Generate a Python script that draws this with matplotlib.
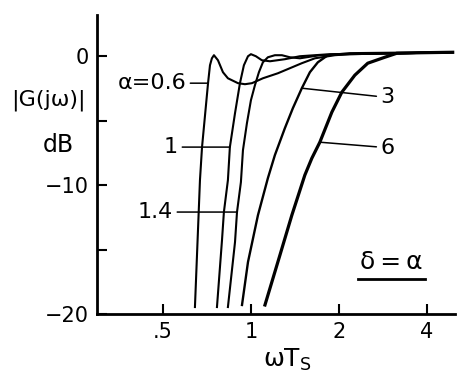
import numpy as np
import matplotlib
matplotlib.use("Agg")
import matplotlib.pyplot as plt

plt.rcParams['font.family'] = ['DejaVu Sans']
plt.rcParams['mathtext.default'] = 'regular'

# |G(jw)| in dB vs w*Ts (delta = alpha)
w_06 = [0.643, 0.669, 0.680, 0.713, 0.724, 0.735, 0.747, 0.771, 0.802,
        0.834, 0.903, 0.954, 1.008, 1.099, 1.237, 1.494, 1.656, 1.939, 2.181,
        3.23, 4.91]
g_06 = [-19.46, -9.61, -7.05, -2.09, -0.70, -0.16, 0.08, -0.31, -1.24,
        -1.71, -2.09, -2.17, -2.09, -1.71, -1.32, -0.54, -0.16, 0.08, 0.16,
        0.23, 0.31]

w_1 = [0.765, 0.796, 0.808, 0.834, 0.847, 0.882, 0.917, 0.946, 0.977, 1.0,
       1.040, 1.090, 1.162, 1.307, 1.471, 1.864, 3.23, 4.91]
g_1 = [-19.46, -14.26, -12.09, -9.61, -7.05, -4.42, -2.09, -0.70, 0.0, 0.16,
       0.0, -0.31, -0.39, -0.23, 0.0, 0.16, 0.23, 0.31]

w_14 = [0.834, 0.882, 0.896, 0.924, 0.939, 0.969, 1.0, 1.032, 1.065, 1.099,
        1.143, 1.208, 1.277, 1.360, 1.471, 1.722, 2.181, 3.23, 4.91]
g_14 = [-19.46, -14.42, -12.09, -9.77, -7.29, -5.19, -3.41, -2.25, -1.24, -0.47,
        -0.08, 0.08, 0.08, -0.08, -0.16, 0.08, 0.16, 0.23, 0.31]

w_3 = [0.932, 0.977, 1.057, 1.143, 1.208, 1.307, 1.392, 1.494, 1.592, 1.695,
       1.834, 2.181, 3.23, 4.91]
g_3 = [-19.30, -15.97, -12.33, -9.46, -7.67, -5.58, -4.03, -2.48, -1.24, -0.47,
       0.08, 0.23, 0.27, 0.31]

w_6 = [1.117, 1.257, 1.381, 1.530, 1.617, 1.722, 1.893, 2.048, 2.269, 2.513,
       2.873, 3.158, 3.785, 4.91]
g_6 = [-19.30, -15.43, -12.33, -9.22, -7.91, -6.67, -4.34, -2.79, -1.47, -0.54,
       -0.08, 0.23, 0.27, 0.31]

xticks = [0.5, 1, 2, 4]
xtick_labels = ['.5', '1', '2', '4']
yticks = [-20, -10, 0]
ytick_labels = ['\u221220', '\u221210', '0']

fig = plt.figure(figsize=(4.7, 3.86), dpi=100)
ax = fig.add_axes([97/470, 1 - 314/386, (455 - 97)/470, (314 - 15)/386])

ax.plot(w_06, g_06, color='black', lw=1.5)
ax.plot(w_1, g_1, color='black', lw=1.5)
ax.plot(w_14, g_14, color='black', lw=1.5)
ax.plot(w_3, g_3, color='black', lw=1.7)
ax.plot(w_6, g_6, color='black', lw=2.3)

ax.set_xscale('log')
ax.set_xlim(0.297, 5.0)
ax.set_ylim(-20, 3.2)
ax.set_xticks(xticks)
ax.set_xticklabels(xtick_labels)
ax.set_yticks(yticks)
ax.set_yticklabels(ytick_labels)
ax.set_yticks([-15, -5], minor=True)
ax.xaxis.set_minor_locator(matplotlib.ticker.NullLocator())
ax.tick_params(which='both', direction='in', length=7, width=1.5, labelsize=15, pad=6)

for s in ['top', 'right']:
    ax.spines[s].set_visible(False)
for s in ['left', 'bottom']:
    ax.spines[s].set_linewidth(2)

# curve labels with leader lines
lead = dict(arrowstyle='-', color='black', lw=1.1, shrinkA=1, shrinkB=0)
ax.annotate('\u03b1=0.6', xy=(w_06[3], g_06[3]), xytext=(0.600, g_06[3]),
            ha='right', va='center', fontsize=16, arrowprops=lead)
ax.annotate('1', xy=(w_1[4], g_1[4]), xytext=(0.563, g_1[4]),
            ha='right', va='center', fontsize=16, arrowprops=lead)
ax.annotate('1.4', xy=(w_14[2], g_14[2]), xytext=(0.541, g_14[2]),
            ha='right', va='center', fontsize=16, arrowprops=lead)
ax.annotate('3', xy=(w_3[7], g_3[7]), xytext=(2.78, -3.2),
            ha='left', va='center', fontsize=16, arrowprops=lead)
ax.annotate('6', xy=(w_6[5], g_6[5]), xytext=(2.78, -7.1),
            ha='left', va='center', fontsize=16, arrowprops=lead)

fig.text(48/470, 1 - 100/386, '|G(j\u03c9)|', ha='center', va='center', fontsize=16)
fig.text(58/470, 1 - 145/386, 'dB', ha='center', va='center', fontsize=17)
fig.text(287/470, 1 - 360/386, r'$\omega T_S$', ha='center', va='center', fontsize=18)
fig.text(391/470, 1 - 262/386, '\u03b4\u2009=\u2009\u03b1', ha='center', va='center', fontsize=18)
fig.add_artist(plt.Line2D([358/470, 425/470], [1 - 279/386, 1 - 279/386],
                          color='black', lw=2))

fig.savefig('out.png', dpi=100)
